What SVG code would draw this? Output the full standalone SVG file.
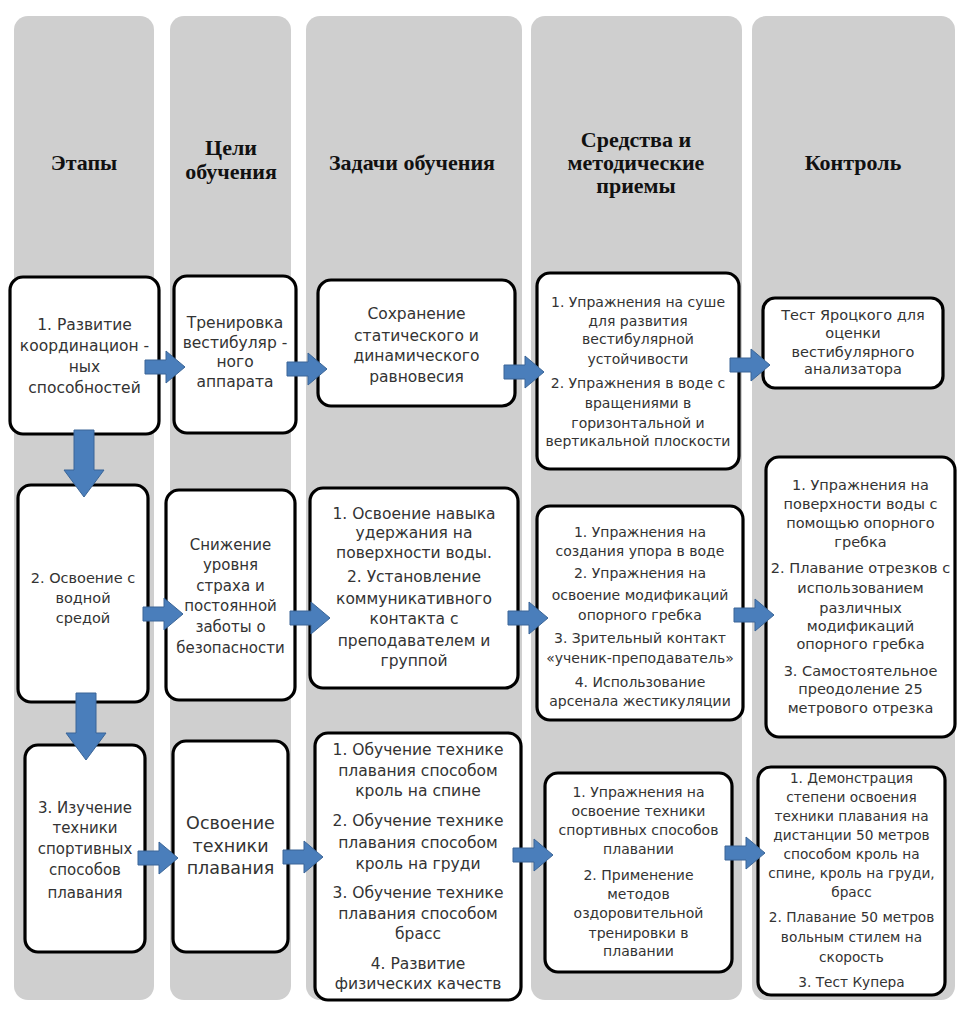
<svg xmlns="http://www.w3.org/2000/svg" xmlns:xlink="http://www.w3.org/1999/xlink" width="976" height="1022" viewBox="0 0 976 1022">
<defs>
<style>
.col{fill:#cfcfcf;}
.box{fill:#ffffff;stroke:#000000;stroke-width:3.2;}
.hd{font-family:"Liberation Serif","Times New Roman",serif;font-weight:bold;font-size:22px;fill:#111;text-anchor:middle;}
.t{font-family:"DejaVu Sans","Liberation Sans",sans-serif;fill:#333333;text-anchor:middle;}
.arr{fill:#4a7ebb;stroke:#3a6597;stroke-width:1;}
</style>
<path id="ah" d="M0,-7 H21 V-16 L40,0 L21,16 V7 H0 Z"/>
<path id="av" d="M-10,0 V40 H-20 L0,67 L20,40 H10 V0 Z"/>
</defs>
<rect width="976" height="1022" fill="#ffffff"/>
<g id="columns">
<rect class="col" x="14" y="16" width="140" height="984" rx="14" fill="#c8c8c8"/>
<rect class="col" x="170" y="16" width="121" height="984" rx="14"/>
<rect class="col" x="306" y="16" width="216" height="984" rx="14"/>
<rect class="col" x="531" y="16" width="211" height="984" rx="14"/>
<rect class="col" x="752" y="16" width="203" height="984" rx="14"/>
</g>
<g id="headers">
<text class="hd" x="84" y="170">Этапы</text>
<text class="hd" x="231" y="155">Цели</text>
<text class="hd" x="231" y="179">обучения</text>
<text class="hd" x="412" y="170">Задачи обучения</text>
<text class="hd" x="636" y="147">Средства и</text>
<text class="hd" x="636" y="170">методические</text>
<text class="hd" x="636" y="193">приемы</text>
<text class="hd" x="853" y="170">Контроль</text>
</g>
<g id="n1">
<rect class="box" x="10" y="277" width="149" height="157" rx="13"/>
<text class="t" font-size="15.5"><tspan x="84.5" y="330">1. Развитие</tspan><tspan x="84.5" y="351">координацион -</tspan><tspan x="84.5" y="372">ных</tspan><tspan x="84.5" y="393">способностей</tspan></text>
</g>
<g id="n2">
<rect class="box" x="174" y="276" width="122" height="157" rx="13"/>
<text class="t" font-size="15.5"><tspan x="235" y="328">Тренировка</tspan><tspan x="235" y="348">вестибуляр -</tspan><tspan x="235" y="367">ного</tspan><tspan x="235" y="387">аппарата</tspan></text>
</g>
<g id="n3">
<rect class="box" x="318" y="280" width="197" height="126" rx="13"/>
<text class="t" font-size="15.5"><tspan x="416.5" y="319">Сохранение</tspan><tspan x="416.5" y="341">статического и</tspan><tspan x="416.5" y="361">динамического</tspan><tspan x="416.5" y="382">равновесия</tspan></text>
</g>
<g id="n4">
<rect class="box" x="537" y="273" width="202" height="196" rx="13"/>
<text class="t" font-size="14"><tspan x="638" y="307">1. Упражнения на суше</tspan><tspan x="638" y="326">для развития</tspan><tspan x="638" y="344">вестибулярной</tspan><tspan x="638" y="364">устойчивости</tspan><tspan x="638" y="388">2. Упражнения в воде с</tspan><tspan x="638" y="408">вращениями в</tspan><tspan x="638" y="428">горизонтальной и</tspan><tspan x="638" y="446">вертикальной плоскости</tspan></text>
</g>
<g id="n5">
<rect class="box" x="763" y="298" width="180" height="90" rx="12"/>
<text class="t" font-size="14.5"><tspan x="853" y="320">Тест Яроцкого для</tspan><tspan x="853" y="338">оценки</tspan><tspan x="853" y="357">вестибулярного</tspan><tspan x="853" y="374">анализатора</tspan></text>
</g>
<g id="n6">
<rect class="box" x="18" y="485" width="130" height="217" rx="13"/>
<text class="t" font-size="14.5"><tspan x="83" y="583">2. Освоение  с</tspan><tspan x="83" y="603">водной</tspan><tspan x="83" y="623">средой</tspan></text>
</g>
<g id="n7">
<rect class="box" x="166" y="490" width="129" height="210" rx="13"/>
<text class="t" font-size="15"><tspan x="230.5" y="550">Снижение</tspan><tspan x="230.5" y="570">уровня</tspan><tspan x="230.5" y="591">страха и</tspan><tspan x="230.5" y="611">постоянной</tspan><tspan x="230.5" y="632">заботы о</tspan><tspan x="230.5" y="653">безопасности</tspan></text>
</g>
<g id="n8">
<rect class="box" x="310" y="488" width="208" height="200" rx="13"/>
<text class="t" font-size="15.5"><tspan x="414" y="519">1. Освоение навыка</tspan><tspan x="414" y="538">удержания на</tspan><tspan x="414" y="558">поверхности воды.</tspan><tspan x="414" y="582">2. Установление</tspan><tspan x="414" y="604">коммуникативного</tspan><tspan x="414" y="624">контакта с</tspan><tspan x="414" y="646">преподавателем и</tspan><tspan x="414" y="666">группой</tspan></text>
</g>
<g id="n9">
<rect class="box" x="537" y="506" width="206" height="214" rx="13"/>
<text class="t" font-size="14"><tspan x="640" y="537">1. Упражнения на</tspan><tspan x="640" y="556">создания упора в воде</tspan><tspan x="640" y="578">2. Упражнения на</tspan><tspan x="640" y="600">освоение модификаций</tspan><tspan x="640" y="620">опорного гребка</tspan><tspan x="640" y="643">3. Зрительный контакт</tspan><tspan x="640" y="663">«ученик-преподаватель»</tspan><tspan x="640" y="687">4. Использование</tspan><tspan x="640" y="706">арсенала жестикуляции</tspan></text>
</g>
<g id="n10">
<rect class="box" x="766" y="457" width="189" height="280" rx="13"/>
<text class="t" font-size="14.5"><tspan x="860.5" y="490">1. Упражнения на</tspan><tspan x="860.5" y="509">поверхности воды с</tspan><tspan x="860.5" y="528">помощью опорного</tspan><tspan x="860.5" y="547">гребка</tspan><tspan x="860.5" y="573">2. Плавание отрезков с</tspan><tspan x="860.5" y="593">использованием</tspan><tspan x="860.5" y="613">различных</tspan><tspan x="860.5" y="631">модификаций</tspan><tspan x="860.5" y="649">опорного гребка</tspan><tspan x="860.5" y="676">3. Самостоятельное</tspan><tspan x="860.5" y="694">преодоление 25</tspan><tspan x="860.5" y="713">метрового отрезка</tspan></text>
</g>
<g id="n11">
<rect class="box" x="25" y="745" width="120" height="207" rx="13"/>
<text class="t" font-size="15"><tspan x="85" y="813">3. Изучение</tspan><tspan x="85" y="833">техники</tspan><tspan x="85" y="854">спортивных</tspan><tspan x="85" y="875">способов</tspan><tspan x="85" y="898">плавания</tspan></text>
</g>
<g id="n12">
<rect class="box" x="173" y="741" width="115" height="211" rx="13"/>
<text class="t" font-size="17.5"><tspan x="230.5" y="829">Освоение</tspan><tspan x="230.5" y="852">техники</tspan><tspan x="230.5" y="874">плавания</tspan></text>
</g>
<g id="n13">
<rect class="box" x="315" y="733" width="206" height="267" rx="13"/>
<text class="t" font-size="15.5"><tspan x="418" y="755">1. Обучение технике</tspan><tspan x="418" y="776">плавания способом</tspan><tspan x="418" y="796">кроль на спине</tspan><tspan x="418" y="826">2. Обучение технике</tspan><tspan x="418" y="848">плавания способом</tspan><tspan x="418" y="869">кроль на груди</tspan><tspan x="418" y="898">3. Обучение технике</tspan><tspan x="418" y="919">плавания способом</tspan><tspan x="418" y="939">брасс</tspan><tspan x="418" y="969">4. Развитие</tspan><tspan x="418" y="989">физических качеств</tspan></text>
</g>
<g id="n14">
<rect class="box" x="545" y="773" width="187" height="199" rx="13"/>
<text class="t" font-size="14"><tspan x="638.5" y="797">1. Упражнения на</tspan><tspan x="638.5" y="816">освоение техники</tspan><tspan x="638.5" y="835">спортивных способов</tspan><tspan x="638.5" y="854">плавании</tspan><tspan x="638.5" y="880">2. Применение</tspan><tspan x="638.5" y="899">методов</tspan><tspan x="638.5" y="918">оздоровительной</tspan><tspan x="638.5" y="938">тренировки в</tspan><tspan x="638.5" y="956">плавании</tspan></text>
</g>
<g id="n15">
<rect class="box" x="758" y="767" width="187" height="228" rx="13"/>
<text class="t" font-size="13.7"><tspan x="851.5" y="783">1. Демонстрация</tspan><tspan x="851.5" y="802">степени освоения</tspan><tspan x="851.5" y="821">техники плавания на</tspan><tspan x="851.5" y="840">дистанции 50 метров</tspan><tspan x="851.5" y="859">способом кроль на</tspan><tspan x="851.5" y="878">спине, кроль на груди,</tspan><tspan x="851.5" y="897">брасс</tspan><tspan x="851.5" y="922">2. Плавание 50 метров</tspan><tspan x="851.5" y="942">вольным стилем на</tspan><tspan x="851.5" y="962">скорость</tspan><tspan x="851.5" y="987">3. Тест Купера</tspan></text>
</g>
<g id="connectors">
<use xlink:href="#ah" class="arr" x="145" y="367"/>
<use xlink:href="#ah" class="arr" x="287" y="369"/>
<use xlink:href="#ah" class="arr" x="504" y="372"/>
<use xlink:href="#ah" class="arr" x="730" y="365"/>
<use xlink:href="#ah" class="arr" x="143" y="614"/>
<use xlink:href="#ah" class="arr" x="290" y="618"/>
<use xlink:href="#ah" class="arr" x="508" y="618"/>
<use xlink:href="#ah" class="arr" x="734" y="615"/>
<use xlink:href="#ah" class="arr" x="138" y="858"/>
<use xlink:href="#ah" class="arr" x="283" y="857"/>
<use xlink:href="#ah" class="arr" x="513" y="855"/>
<use xlink:href="#ah" class="arr" x="725" y="853"/>
<use xlink:href="#av" class="arr" x="84" y="430"/>
<use xlink:href="#av" class="arr" x="86" y="693"/>
</g>
</svg>
